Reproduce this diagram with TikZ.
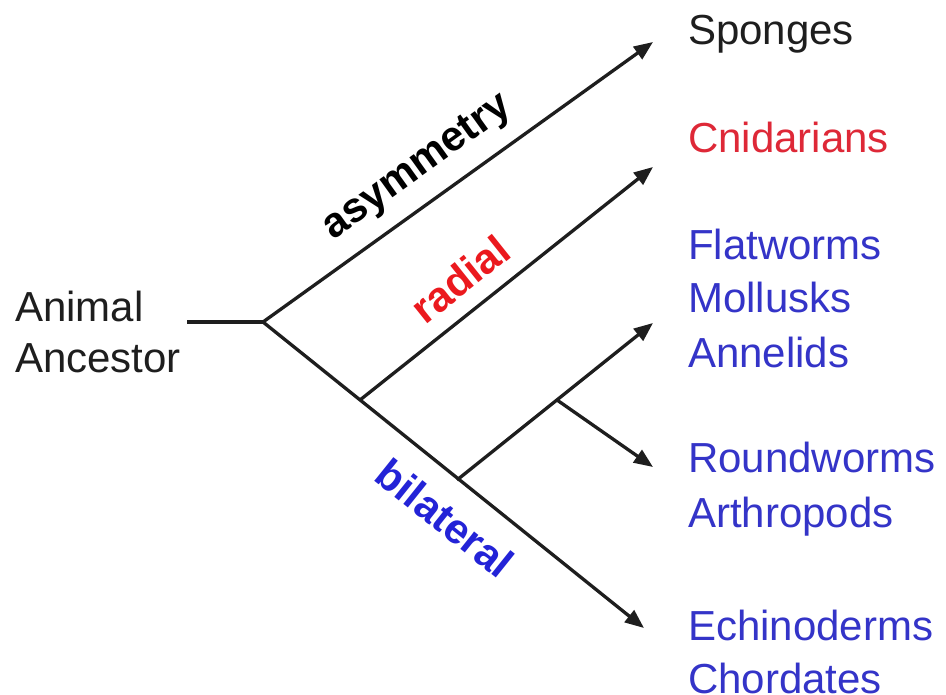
\documentclass[tikz,border=0pt]{standalone}
\usepackage{fontspec}
\setmainfont{Liberation Sans}
\usetikzlibrary{arrows.meta}
\definecolor{taxblue}{RGB}{52,52,200}
\definecolor{taxred}{RGB}{222,40,55}
\definecolor{labred}{RGB}{235,25,30}
\definecolor{labblue}{RGB}{35,35,215}
\definecolor{inkdark}{RGB}{30,30,30}
\begin{document}
\begin{tikzpicture}[x=1pt,y=-1pt,
  branch/.style={line width=3.3pt,draw=inkdark},
  arr/.style={branch,-{Triangle[length=19pt,width=15pt]}},
  taxon/.style={anchor=base west,inner sep=0pt,font=\fontsize{42}{50}\selectfont},
  clade/.style={inner sep=0pt,font=\fontsize{42}{48}\selectfont\bfseries}]
\useasboundingbox[fill=white] (0,0) rectangle (946,695);
% junctions and tips
\coordinate (stem) at (187,322);
\coordinate (root) at (263,322);
\coordinate (jrad) at (360,400);
\coordinate (jbil) at (457,480);
\coordinate (jsub) at (557,400);
\coordinate (tspo) at (653,42);
\coordinate (tcni) at (653,167);
\coordinate (tfla) at (653,323);
\coordinate (trou) at (653,467);
\coordinate (tech) at (644,628);
% texts
\node[taxon,text=inkdark] (anim) at (15,322) {Animal};
\node[taxon,text=inkdark] (ance) at (15,373) {Ancestor};
\node[taxon,text=inkdark] (spon) at (688,45) {Sponges};
\node[taxon,text=taxred] (cnid) at (688,153) {Cnidarians};
\node[taxon,text=taxblue] (flat) at (688,260) {Flatworms};
\node[taxon,text=taxblue] (moll) at (688,313) {Mollusks};
\node[taxon,text=taxblue] (anne) at (688,367) {Annelids};
\node[taxon,text=taxblue] (roun) at (688,472) {Roundworms};
\node[taxon,text=taxblue] (arth) at (688,527) {Arthropods};
\node[taxon,text=taxblue] (echi) at (688,640) {Echinoderms};
\node[taxon,text=taxblue] (chor) at (688,693) {Chordates};
% branches
\draw[branch] (stem) -- (root);
\draw[arr] (root) -- (tspo);
\draw[arr] (root) -- (tech);
\draw[arr] (jrad) -- (tcni);
\draw[arr] (jbil) -- (tfla);
\draw[arr] (jsub) -- (trou);
% clade labels
\node[clade,text=black,rotate=35.7] (lasy) at (418,168) {asymmetry};
\node[clade,text=labred,rotate=38.6] (lrad) at (460,279) {radial};
\node[clade,text=labblue,rotate=-38.7] (lbil) at (445,518) {bilateral};
\end{tikzpicture}
\end{document}
